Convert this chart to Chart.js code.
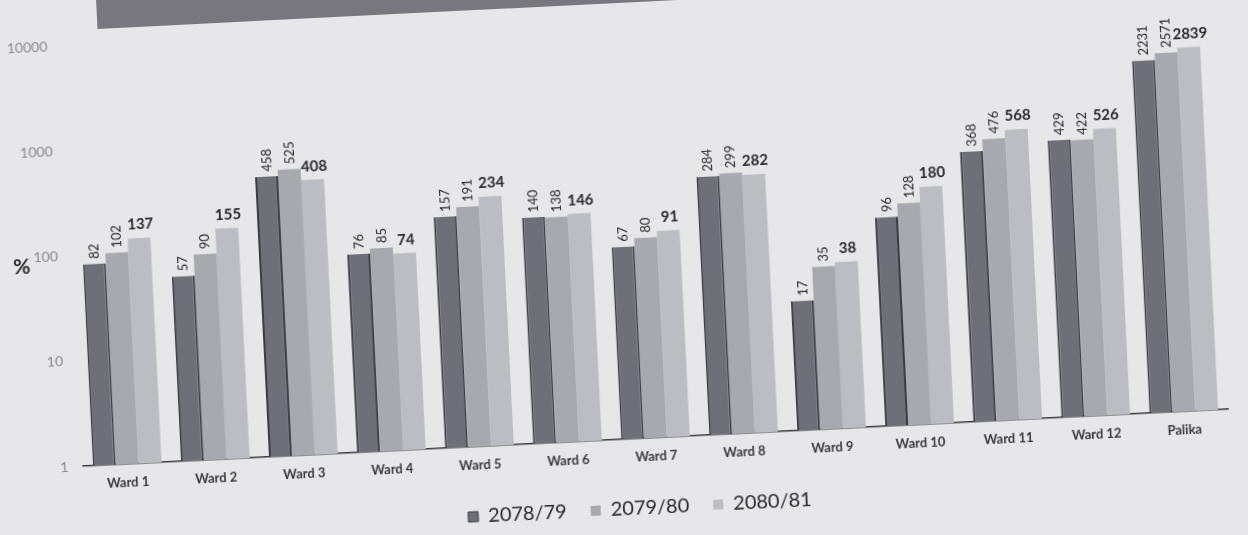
<!DOCTYPE html>
<html>
<head>
<meta charset="utf-8">
<script src="https://cdn.jsdelivr.net/npm/chart.js@4"></script>
<style>
  html, body { margin: 0; padding: 0; background: #e7e7e9; overflow: hidden; }
  #stage {
    position: absolute; left: 0; top: 0; width: 1248px; height: 535px;
    transform: rotate(-2.85deg); transform-origin: 624px 267px;
    background: #e7e7e9;
  }
  #band {
    position: absolute; left: 110px; top: -57px; width: 1250px; height: 60px;
    background: #77777d;
  }
  canvas { position: absolute; left: 0; top: 0; }
</style>
</head>
<body>
<div id="stage">
  <div id="band"></div>
  <canvas id="chart" width="1248" height="535"></canvas>
</div>
<script>
// Categories and series
const wards = ['Ward 1', 'Ward 2', 'Ward 3', 'Ward 4', 'Ward 5', 'Ward 6', 'Ward 7',
  'Ward 8', 'Ward 9', 'Ward 10', 'Ward 11', 'Ward 12', 'Palika'];
const years = ['2078/79', '2079/80', '2080/81'];
const y2078 = [82, 57, 458, 76, 157, 140, 67, 284, 17, 96, 368, 429, 2231];
const y2079 = [102, 90, 525, 85, 191, 138, 80, 299, 35, 128, 476, 422, 2571];
const y2080 = [137, 155, 408, 74, 234, 146, 91, 282, 38, 180, 568, 526, 2839];
const yTicks = [1, 10, 100, 1000, 10000];

const FONT = 'Lato, "Open Sans", sans-serif';

// value labels: first two series rotated, last one bold and flat
const valueLabels = {
  id: 'valueLabels',
  afterDatasetsDraw(chart) {
    const ctx = chart.ctx;
    chart.data.datasets.forEach((ds, i) => {
      const meta = chart.getDatasetMeta(i);
      meta.data.forEach((bar, j) => {
        const txt = String(ds.data[j]);
        ctx.save();
        ctx.fillStyle = '#2a2a2e';
        if (i < 2) {
          ctx.font = '13px ' + FONT;
          ctx.translate(bar.x + 1, bar.y - 5);
          ctx.rotate(-Math.PI / 2);
          ctx.textAlign = 'left';
          ctx.textBaseline = 'middle';
          ctx.fillText(txt, 0, 0);
        } else {
          ctx.font = 'bold 15px ' + FONT;
          ctx.textAlign = 'center';
          ctx.textBaseline = 'bottom';
          ctx.fillText(txt, bar.x + 2, bar.y - 6);
        }
        ctx.restore();
      });
    });
  }
};

// the "%" beside the 100 tick, and nudge the legend a little to the right
const extras = {
  id: 'extras',
  beforeDraw(chart) {
    const lg = chart.legend;
    if (lg && !lg._nudged) {
      lg.left += 18;
      lg.right += 18;
      lg._nudged = true;
    }
  },
  afterDraw(chart) {
    const ctx = chart.ctx;
    const y = chart.scales.y.getPixelForValue(100);
    ctx.save();
    ctx.font = 'bold 21px ' + FONT;
    ctx.fillStyle = '#2a2a2e';
    ctx.textAlign = 'left';
    ctx.textBaseline = 'middle';
    ctx.fillText('%', 14, y + 9);
    ctx.restore();
  }
};

new Chart(document.getElementById('chart'), {
  type: 'bar',
  data: {
    labels: wards,
    datasets: [
      { label: years[0], data: y2078, backgroundColor: '#6f6f77', borderColor: '#3c3c44', borderWidth: { left: 2, right: 2 } },
      { label: years[1], data: y2079, backgroundColor: '#a8a8af', borderColor: '#a8a8af', borderWidth: 0 },
      { label: years[2], data: y2080, backgroundColor: '#bcbdc2', borderColor: '#bcbdc2', borderWidth: 0 }
    ]
  },
  options: {
    responsive: false,
    animation: false,
    layout: { padding: { top: 18, right: 28, bottom: 6, left: 0 } },
    datasets: { bar: { categoryPercentage: 0.78, barPercentage: 1 } },
    scales: {
      x: {
        grid: { display: false },
        border: { display: true, color: '#3a3a3e', width: 1.5 },
        ticks: { color: '#3a3a3e', font: { family: FONT, size: 13, weight: 'bold' }, padding: 3, maxRotation: 0 },
        afterFit(scale) { scale.height = 36; }
      },
      y: {
        type: 'logarithmic',
        min: 1,
        max: 10000,
        grid: { display: false },
        border: { display: false },
        afterBuildTicks(scale) { scale.ticks = yTicks.map(v => ({ value: v })); },
        ticks: {
          color: '#8a8a8e',
          font: { family: FONT, size: 14 },
          padding: 7,
          callback: v => String(v)
        },
        afterFit(scale) { scale.width = 74; }
      }
    },
    plugins: {
      legend: {
        position: 'bottom',
        labels: {
          color: '#2a2a2e',
          font: { family: FONT, size: 20 },
          boxWidth: 10,
          boxHeight: 10,
          padding: 24
        }
      },
      tooltip: { enabled: false }
    }
  },
  plugins: [valueLabels, extras]
});
</script>
</body>
</html>
